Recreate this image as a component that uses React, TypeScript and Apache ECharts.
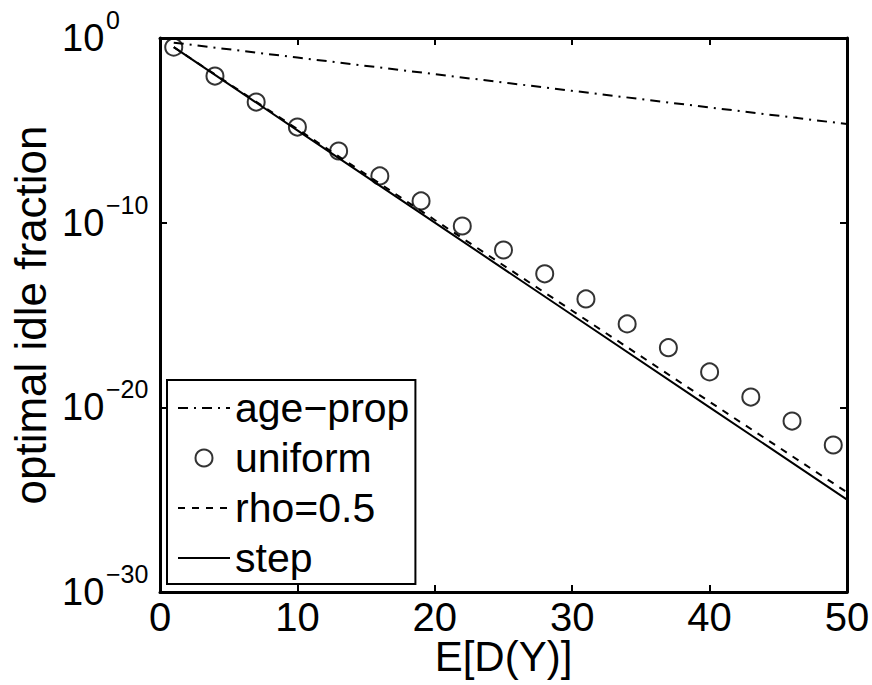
import React, { useEffect, useRef } from 'react';
import * as echarts from 'echarts';

// x positions (E[D(Y)])
const xLines = [1, 10, 20, 30, 40, 50];
const xUniform = [1, 4, 7, 10, 13, 16, 19, 22, 25, 28, 31, 34, 37, 40, 43, 46, 49];

// series values (optimal idle fraction)
const agePropValues = [5.6e-1, 8.7e-2, 1.1e-2, 1.38e-3, 1.74e-4, 2.19e-5];
const uniformValues = [
  3.2e-1, 8.7e-3, 3.4e-4, 1.5e-5, 7.6e-7, 3.4e-8, 1.5e-9, 6.6e-11, 3.3e-12,
  1.7e-13, 7.4e-15, 3.3e-16, 1.7e-17, 8.3e-19, 3.6e-20, 1.8e-21, 9.1e-23,
];
const rhoValues = [3.2e-1, 1.17e-5, 1.4e-10, 1.7e-15, 2.0e-20, 2.5e-25];
const stepValues = [3.2e-1, 1.0e-5, 1.0e-10, 1.0e-15, 1.0e-20, 1.0e-25];

// axis ticks
const xTickValues = [0, 10, 20, 30, 40, 50];
const yTickExponents = [-30, -20, -10, 0];

const FONT = 'Liberation Sans, Arial, sans-serif';

const zip = (xs: number[], ys: number[]) => xs.map((x, i) => [x, ys[i]]);

export default function App() {
  const ref = useRef<HTMLDivElement>(null);
  useEffect(() => {
    if (!ref.current) return;
    const chart = echarts.init(ref.current, undefined, { renderer: 'svg' });
    // tiny widening of the lower bound so the 10^-30 tick is not lost to rounding
    const yMin = Math.pow(10, yTickExponents[0]) * 0.9999;
    const yMax = Math.pow(10, yTickExponents[yTickExponents.length - 1]);
    const axisLine = { show: true, onZero: false, lineStyle: { color: '#000', width: 3 } };
    const axisTick = { show: true, inside: true, length: 7, lineStyle: { color: '#000', width: 2 } };
    const expLabel = (v: number) => {
      const lg = Math.log10(v);
      const e = Math.round(lg);
      if (!isFinite(lg) || Math.abs(lg - e) > 1e-6 || yTickExponents.indexOf(e) < 0) return '';
      const s = e < 0 ? '\u2212' + Math.abs(e) : String(e);
      return '{s|' + s + '}\n{b|10}\n{e| }';
    };
    chart.setOption({
      animation: false,
      backgroundColor: '#fff',
      grid: { left: 160, right: 25, top: 38, bottom: 93, containLabel: false, outerBoundsMode: 'none' },
      xAxis: [
        {
          type: 'value',
          min: xTickValues[0],
          max: xTickValues[xTickValues.length - 1],
          interval: 10,
          position: 'bottom',
          name: 'E[D(Y)]',
          nameLocation: 'middle',
          nameGap: 43,
          nameMoveOverlap: false,
          nameTextStyle: { fontFamily: FONT, fontSize: 42, color: '#000' },
          axisLine,
          axisTick,
          splitLine: { show: false },
          axisLabel: { fontFamily: FONT, fontSize: 40, color: '#000', margin: 5 },
        },
        {
          type: 'value',
          min: xTickValues[0],
          max: xTickValues[xTickValues.length - 1],
          interval: 10,
          position: 'top',
          axisLine,
          axisTick,
          splitLine: { show: false },
          axisLabel: { show: false },
        },
      ],
      yAxis: [
        {
          type: 'log',
          logBase: 10,
          min: yMin,
          max: yMax,
          splitNumber: 3,
          position: 'left',
          name: 'optimal idle fraction',
          nameLocation: 'middle',
          nameGap: 108,
          nameMoveOverlap: false,
          nameTextStyle: { fontFamily: FONT, fontSize: 44, color: '#000' },
          axisLine,
          axisTick,
          splitLine: { show: false },
          axisLabel: {
            margin: 98,
            showMinLabel: true,
            showMaxLabel: true,
            hideOverlap: false,
            formatter: expLabel,
            align: 'left',
            rich: {
              s: { fontFamily: FONT, fontSize: 25, lineHeight: 10, color: '#000', padding: [0, 0, 0, 44] },
              b: { fontFamily: FONT, fontSize: 38, lineHeight: 26, color: '#000' },
              e: { fontSize: 8, lineHeight: 10, color: 'rgba(0,0,0,0)' },
            },
          },
        },
        {
          type: 'log',
          logBase: 10,
          min: yMin,
          max: yMax,
          splitNumber: 3,
          position: 'right',
          axisLine,
          axisTick,
          splitLine: { show: false },
          axisLabel: { show: false },
        },
      ],
      legend: {
        orient: 'vertical',
        left: 167,
        top: 380,
        padding: [6, 6, 4, 10],
        itemGap: 6,
        itemWidth: 52,
        itemHeight: 17,
        borderColor: '#000',
        borderWidth: 2,
        backgroundColor: '#fff',
        textStyle: { fontFamily: FONT, fontSize: 41, lineHeight: 44, color: '#000' },
        data: [
          { name: 'age\u2212prop', itemStyle: { color: 'rgba(0,0,0,0)', borderWidth: 0 } },
          { name: 'uniform' },
          { name: 'rho=0.5', itemStyle: { color: 'rgba(0,0,0,0)', borderWidth: 0 } },
          { name: 'step', itemStyle: { color: 'rgba(0,0,0,0)', borderWidth: 0 } },
        ],
      },
      series: [
        {
          name: 'age\u2212prop',
          type: 'line',
          data: zip(xLines, agePropValues),
          symbol: 'none',
          showSymbol: false,
          lineStyle: { color: '#000', width: 2, type: [10, 6, 2, 6] },
          itemStyle: { color: '#000' },
        },
        {
          name: 'rho=0.5',
          type: 'line',
          data: zip(xLines, rhoValues),
          symbol: 'none',
          showSymbol: false,
          lineStyle: { color: '#000', width: 2, type: [7, 7] },
          itemStyle: { color: '#000' },
        },
        {
          name: 'step',
          type: 'line',
          data: zip(xLines, stepValues),
          symbol: 'none',
          showSymbol: false,
          lineStyle: { color: '#000', width: 2, type: 'solid' },
          itemStyle: { color: '#000' },
        },
        {
          name: 'uniform',
          type: 'scatter',
          data: zip(xUniform, uniformValues),
          symbol: 'circle',
          symbolSize: 17,
          itemStyle: { color: 'rgba(0,0,0,0)', borderColor: '#000', borderWidth: 2 },
        },
      ],
    });
    return () => chart.dispose();
  }, []);
  return (
    <div
      ref={ref}
      style={{ position: 'fixed', left: 0, top: 0, width: 872, height: 685, background: '#fff' }}
    />
  );
}
